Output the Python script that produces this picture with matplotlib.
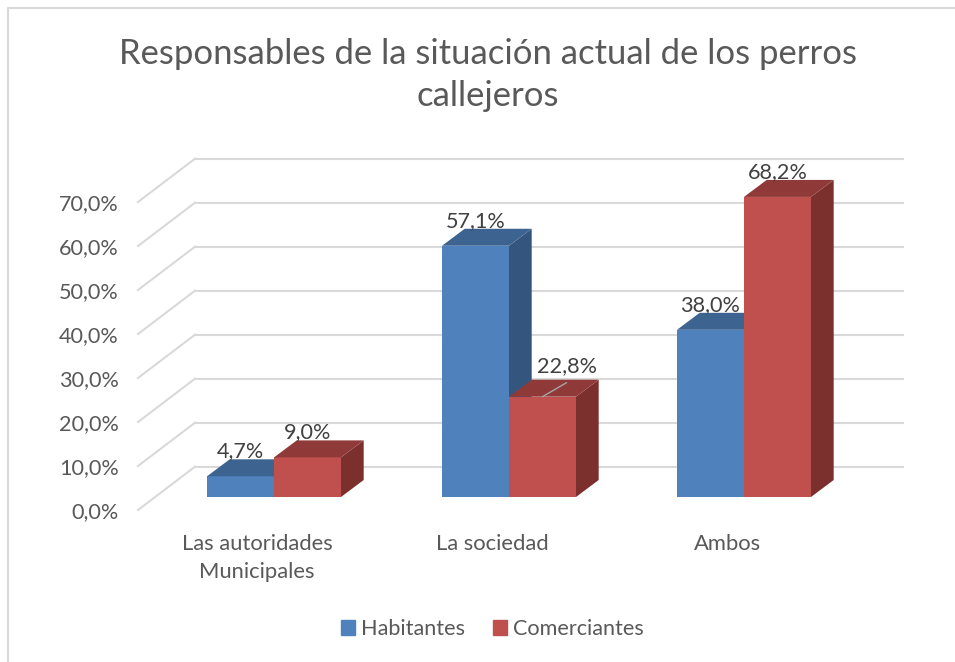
import matplotlib
matplotlib.use('Agg')
import matplotlib.pyplot as plt
from matplotlib.lines import Line2D
from matplotlib.patches import Polygon
from matplotlib.transforms import IdentityTransform

categories = ['Las autoridades\nMunicipales', 'La sociedad', 'Ambos']
habitantes = [4.7, 57.1, 38.0]
comerciantes = [9.0, 22.8, 68.2]
y_ticks = [0, 10, 20, 30, 40, 50, 60, 70]
y_labels = ['0,0%', '10,0%', '20,0%', '30,0%', '40,0%', '50,0%', '60,0%', '70,0%']

W, H = 955, 662
BLUE, BLUE_TOP, BLUE_SIDE = '#4F81BD', '#3D6491', '#34567E'
RED, RED_TOP, RED_SIDE = '#C0504D', '#8F3A38', '#7C302E'
GRID = '#D9D9D9'
PX_PER_UNIT = 4.4
BAR_W = 67 / 235
DEPTH = (22.7, 17)

plt.rcParams['font.family'] = ['Lato', 'DejaVu Sans']


def px_axes(fig, left, right, top, bottom):
    ax = fig.add_axes([left / W, 1 - bottom / H, (right - left) / W, (bottom - top) / H])
    ax.patch.set_alpha(0)
    for s in ax.spines.values():
        s.set_visible(False)
    return ax


def draw_bar(ax, x, v, front, top, side):
    ax.bar(x, v, width=BAR_W, color=front, align='edge', zorder=3, clip_on=False)
    p = ax.transData.transform([(x, 0), (x + BAR_W, 0), (x + BAR_W, v), (x, v)])
    dx, dy = DEPTH
    (x0, y0), (x1, _), _, (_, y1) = p
    ax.add_patch(Polygon([(x1, y0), (x1 + dx, y0 + dy), (x1 + dx, y1 + dy), (x1, y1)],
                         transform=IdentityTransform(), color=side, lw=0, zorder=3, clip_on=False))
    ax.add_patch(Polygon([(x0, y1), (x1, y1), (x1 + dx, y1 + dy), (x0 + dx, y1 + dy)],
                         transform=IdentityTransform(), color=top, lw=0, zorder=3, clip_on=False))


def value_label(ax, x, v, dx=0, dy=25):
    text = ('%.1f%%' % v).replace('.', ',')
    ax.annotate(text, xy=(x, v), xytext=(dx, dy), textcoords='offset pixels',
                ha='center', va='center', fontsize=15.6, color='#404040', zorder=5)


fig = plt.figure(figsize=(W / 100, H / 100), dpi=100)

# wall axes: back gridlines, slanted side lines, tick labels
wall = px_axes(fig, 138, 903, 202, 510)
wall.set_xlim((138 - 257) / 235, (903 - 257) / 235)
wall.set_ylim(0, 70)
back_x = (195 - 257) / 235
back_v = 43.3 / PX_PER_UNIT
for v in y_ticks:
    wall.plot([wall.get_xlim()[0], back_x], [v, v + back_v], color=GRID, lw=1.5, clip_on=False, zorder=1)
    wall.plot([back_x, wall.get_xlim()[1]], [v + back_v, v + back_v], color=GRID, lw=1.5, clip_on=False, zorder=1)
wall.set_yticks(y_ticks)
wall.set_yticklabels(y_labels, fontsize=15.6, color='#595959')
wall.set_xticks(range(len(categories)))
wall.set_xticklabels(categories, fontsize=15.8, color='#595959', linespacing=1.5)
wall.tick_params(axis='y', length=0, pad=14)
wall.tick_params(axis='x', length=0, pad=17)

# bar axes: the plane of the bar fronts
ax = px_axes(fig, 138, 903, 497 - 70 * PX_PER_UNIT, 497)
ax.set_xlim((138 - 274) / 235, (903 - 274) / 235)
ax.set_ylim(0, 70)
ax.set_xticks([])
ax.set_yticks([])
for i in range(len(categories)):
    draw_bar(ax, i - BAR_W, habitantes[i], BLUE, BLUE_TOP, BLUE_SIDE)
    draw_bar(ax, i, comerciantes[i], RED, RED_TOP, RED_SIDE)
    value_label(ax, i - BAR_W / 2, habitantes[i])
    if i == 1:
        # this label was dragged away from its bar, so it has a leader line
        value_label(ax, i + BAR_W / 2, comerciantes[i], dx=24, dy=31)
        ax.annotate('', xy=(i + BAR_W / 2, comerciantes[i]), xytext=(24, 14), textcoords='offset pixels',
                    arrowprops=dict(arrowstyle='-', color='#A6A6A6', lw=1, shrinkA=0, shrinkB=0), zorder=5)
    else:
        value_label(ax, i + BAR_W / 2, comerciantes[i])

fig.text(488 / W, 1 - 75 / H, 'Responsables de la situación actual de los perros\ncallejeros',
         ha='center', va='center', fontsize=24.9, color='#595959', linespacing=1.42)

handles = [plt.Rectangle((0, 0), 1, 1, color=BLUE), plt.Rectangle((0, 0), 1, 1, color=RED)]
fig.legend(handles, ['Habitantes', 'Comerciantes'], loc='center', bbox_to_anchor=(492.5 / W, 1 - 629 / H),
           ncol=2, frameon=False, fontsize=15.6, labelcolor='#595959', handlelength=0.64, handleheight=0.64,
           handletextpad=0.28, columnspacing=1.29)

# chart frame, only the left and top edges show in the crop
fig.add_artist(Line2D([7.5 / W, 7.5 / W, 1], [0, 1 - 7.5 / H, 1 - 7.5 / H], color=GRID, lw=1.5))

fig.savefig('out.png', dpi=100)
